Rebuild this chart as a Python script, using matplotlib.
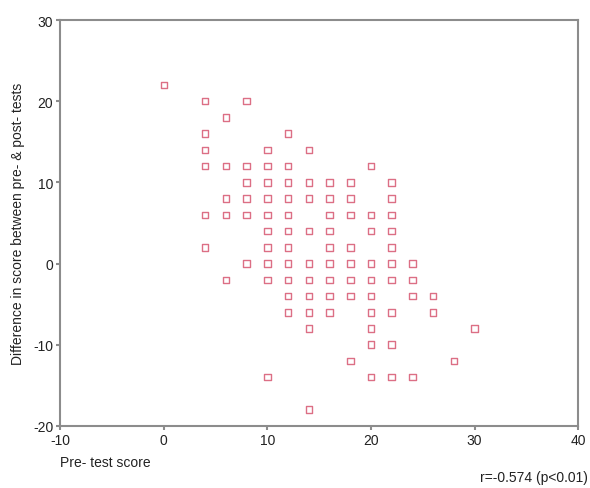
import matplotlib

matplotlib.use("Agg")
import matplotlib.pyplot as plt

plt.rcParams["font.family"] = ["Liberation Sans", "DejaVu Sans"]
plt.rcParams["axes.unicode_minus"] = False

# (pre-test score, difference), grouped by row of difference
pre_score = [
    0,
    4, 8,
    6,
    4, 12,
    4, 10, 14,
    4, 6, 8, 10, 12, 20,
    8, 10, 12, 14, 16, 18, 22,
    6, 8, 10, 12, 14, 16, 18, 22,
    4, 6, 8, 10, 12, 16, 18, 20, 22,
    10, 12, 14, 16, 20, 22,
    4, 10, 12, 16, 18, 22,
    8, 10, 12, 14, 16, 18, 20, 22, 24,
    6, 10, 12, 14, 16, 18, 20, 22, 24,
    12, 14, 16, 18, 20, 24, 26,
    12, 14, 16, 20, 22, 26,
    14, 20, 30,
    20, 22,
    18, 28,
    10, 20, 22, 24,
    14,
]
diff = (
    [22]
    + [20] * 2
    + [18]
    + [16] * 2
    + [14] * 3
    + [12] * 6
    + [10] * 7
    + [8] * 8
    + [6] * 9
    + [4] * 6
    + [2] * 6
    + [0] * 9
    + [-2] * 9
    + [-4] * 7
    + [-6] * 6
    + [-8] * 3
    + [-10] * 2
    + [-12] * 2
    + [-14] * 4
    + [-18]
)

AXIS = "#8c8c8c"
MARK = "#dc6f85"

fig = plt.figure(figsize=(5.9, 4.89), dpi=100)
ax = fig.add_axes([0.102, 0.127, 0.878, 0.83])

ax.scatter(pre_score, diff, marker="s", s=22, facecolors="none",
           edgecolors=MARK, linewidths=1.0, zorder=3)

ax.set_xlim(-10, 40)
ax.set_ylim(-20, 30)
ax.set_xticks([-10, 0, 10, 20, 30, 40])
ax.set_yticks([-20, -10, 0, 10, 20, 30])
for spine in ax.spines.values():
    spine.set_color(AXIS)
    spine.set_linewidth(1.5)
ax.tick_params(direction="out", length=3, width=1.5, color=AXIS,
               labelsize=10, labelcolor="#222222", pad=2)

ax.set_ylabel("Difference in score between pre- & post- tests",
              fontsize=10, color="#222222", labelpad=6)
fig.text(0.102, 0.045, "Pre- test score", fontsize=10, color="#222222")
fig.text(0.997, 0.015, "r=-0.574 (p<0.01)", fontsize=10, color="#222222",
         ha="right")

fig.savefig("out.png", dpi=100)
